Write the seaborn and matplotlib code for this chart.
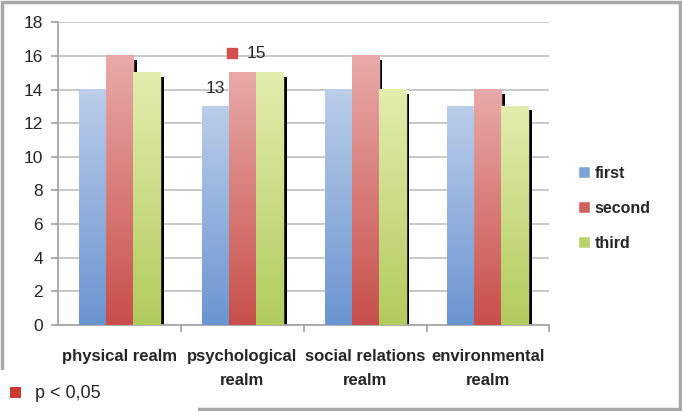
import matplotlib
matplotlib.use("Agg")
import matplotlib.pyplot as plt
import matplotlib.patheffects as pe
from matplotlib.colors import LinearSegmentedColormap
from matplotlib.patches import Rectangle, Patch
import numpy as np
import pandas as pd
import seaborn as sns

# datos del grafico
realms = ["physical realm", "psychological\nrealm", "social relations\nrealm", "environmental\nrealm"]
series = ["first", "second", "third"]
first = [14, 13, 14, 13]
second = [16, 15, 16, 14]
third = [15, 15, 14, 13]

top_colors = ["#bacde9", "#e8aaa9", "#e3edad"]
bottom_colors = ["#6b95d1", "#c84f4b", "#b2cb5d"]
mid_colors = ["#7fa3d8", "#d0615d", "#bdd26f"]

df = pd.DataFrame({
    "realm": realms * 3,
    "score": first + second + third,
    "measure": [s for s in series for _ in realms],
})

sns.set_style("white")
plt.rcParams["font.family"] = ["Liberation Sans", "DejaVu Sans"]

fig = plt.figure(figsize=(6.82, 4.11), dpi=100)
ax = fig.add_axes([0.0855, 0.209, 0.72, 0.737])

sns.barplot(data=df, x="realm", y="score", hue="measure", palette=mid_colors,
            width=0.66, gap=0, saturation=1, legend=False, ax=ax)

# degradado vertical en cada barra + sombra negra
grad = np.linspace(0, 1, 100).reshape(-1, 1)
for i, cont in enumerate(ax.containers):
    cmap = LinearSegmentedColormap.from_list("g%d" % i, [bottom_colors[i], top_colors[i]])
    for bar in cont:
        x, w, h = bar.get_x(), bar.get_width(), bar.get_height()
        ax.imshow(grad, extent=[x, x + w, 0, h], origin="lower", aspect="auto",
                  cmap=cmap, zorder=3, interpolation="bilinear")
        if i > 0:
            bar.set_path_effects([pe.SimplePatchShadow(offset=(2.6, -2.9), shadow_rgbFace="black", alpha=1),
                                  pe.Normal()])

ax.set_xlim(-0.5, 3.5)
ax.set_ylim(0, 18)
ax.set_yticks(range(0, 19, 2))
ax.yaxis.grid(True, color="#c4c4c4", lw=1.3)
ax.set_axisbelow(True)
for s in ["top", "right"]:
    ax.spines[s].set_visible(False)
for s in ["left", "bottom"]:
    ax.spines[s].set_color("#a6a6a6")
    ax.spines[s].set_linewidth(1.3)
ax.set_xticks([0.5, 1.5, 2.5, 3.5], minor=True)
ax.tick_params(axis="x", which="major", length=0, pad=17)
ax.tick_params(axis="x", which="minor", bottom=True, length=5, color="#a6a6a6", width=1.3)
ax.tick_params(axis="y", left=True, length=5, color="#a6a6a6", width=1.3, labelsize=12.5, pad=6)
ax.set_xlabel("")
ax.set_ylabel("")
for lab in ax.get_xticklabels():
    lab.set_fontweight("bold")
    lab.set_fontsize(12)
    lab.set_linespacing(1.75)

# etiquetas sobre las barras de psychological realm
ax.text(1 - 0.22, 14.05, "13", ha="center", va="center", fontsize=12.5)
ax.plot([0.915], [16.15], marker="s", ms=7.5, color="#d2504c", ls="none")
ax.text(1.11, 16.15, "15", ha="center", va="center", fontsize=12.5)

handles = [Patch(facecolor=c) for c in mid_colors]
fig.legend(handles, series, loc="center left", bbox_to_anchor=(0.826, 0.493),
           frameon=False, prop={"weight": "bold", "size": 11.5},
           handlelength=0.75, handleheight=0.75, handletextpad=0.3, labelspacing=1.25)

# marco gris y nota p < 0,05
fig.patches.append(Rectangle((0.003, 0.004), 0.994, 0.992, transform=fig.transFigure,
                             fill=False, ec="#a8a8a8", lw=2.5))
fig.patches.append(Rectangle((0, 0), 198 / 682, 41 / 411, transform=fig.transFigure,
                             fc="white", ec="none"))
fig.patches.append(Rectangle((10 / 682, 13 / 411), 11 / 682, 11 / 411, transform=fig.transFigure,
                             fc="#cc3a32", ec="none"))
fig.text(35 / 682, 18 / 411, "p < 0,05", ha="left", va="center", fontsize=13)

fig.savefig("out.png", dpi=100)
